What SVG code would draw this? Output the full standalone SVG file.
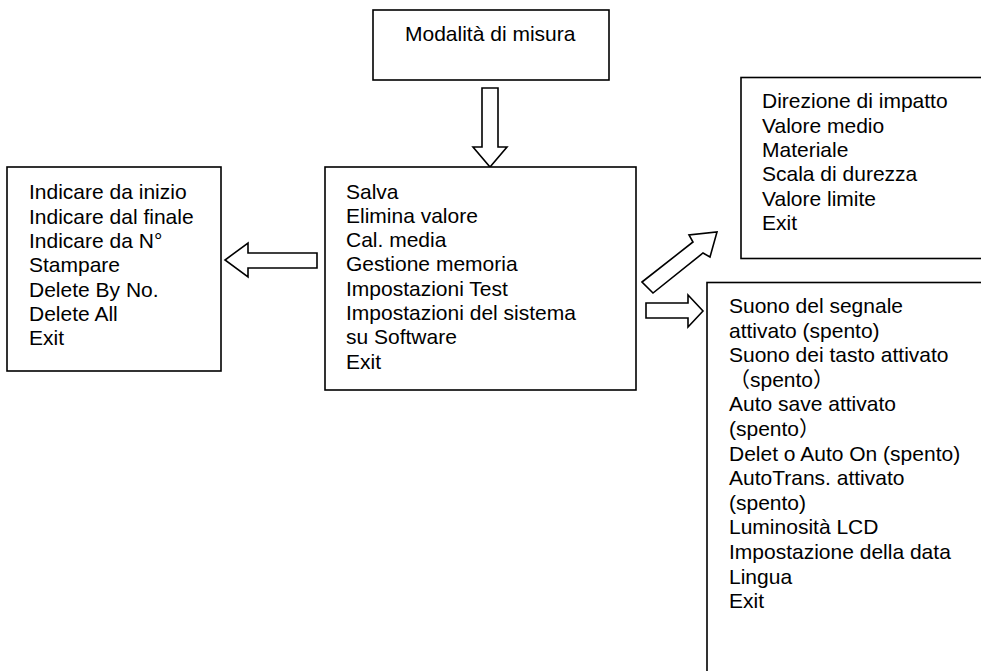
<svg xmlns="http://www.w3.org/2000/svg" width="981" height="671" viewBox="0 0 981 671">
<style>
.box{fill:#fff;stroke:#000;stroke-width:1.6}
.arr{fill:#fff;stroke:#000;stroke-width:1.6;stroke-linejoin:miter}
text{font-family:"Liberation Sans","Noto Sans CJK SC",Arial,sans-serif;font-size:21px;fill:#000}
</style>
<rect width="981" height="671" fill="#fff"/>
<g id="connectors">
<polygon class="arr" points="482,88 498,88 498,147 507,147 490,167 473,147 482,147"/>
<polygon class="arr" points="317,253 317,268 248,268 248,277 225,260 248,243 248,253"/>
<polygon class="arr" points="646,303 688,303 688,295 703,311 688,327 688,318 646,318"/>
<polygon class="arr" points="642,282 693,242 689,235 717,232 710,257 703,253 653,293"/>
</g>
<g id="top">
<rect class="box" x="373" y="10" width="236" height="70"/>
<text x="405" y="41">Modalità di misura</text>
</g>
<g id="center">
<rect class="box" x="325" y="167" width="311" height="223"/>
<text x="346" y="198.5">Salva</text>
<text x="346" y="222.8">Elimina valore</text>
<text x="346" y="247.1">Cal. media</text>
<text x="346" y="271.4">Gestione memoria</text>
<text x="346" y="295.7">Impostazioni Test</text>
<text x="346" y="320">Impostazioni del sistema</text>
<text x="346" y="344.3">su Software</text>
<text x="346" y="368.6">Exit</text>
</g>
<g id="left">
<rect class="box" x="7" y="167" width="214" height="204"/>
<text x="29" y="199.3">Indicare da inizio</text>
<text x="29" y="223.6">Indicare dal finale</text>
<text x="29" y="247.9">Indicare da N°</text>
<text x="29" y="272.2">Stampare</text>
<text x="29" y="296.5">Delete By No.</text>
<text x="29" y="320.8">Delete All</text>
<text x="29" y="345.1">Exit</text>
</g>
<g id="upper-right">
<rect class="box" x="741" y="77.5" width="260" height="181"/>
<text x="762" y="108.3">Direzione di impatto</text>
<text x="762" y="132.6">Valore medio</text>
<text x="762" y="156.9">Materiale</text>
<text x="762" y="181.2">Scala di durezza</text>
<text x="762" y="205.5">Valore limite</text>
<text x="762" y="229.8">Exit</text>
</g>
<g id="lower-right">
<rect class="box" x="707" y="282.5" width="300" height="420"/>
<text x="729" y="313">Suono del segnale</text>
<text x="729" y="337.6">attivato (spento)</text>
<text x="729" y="362.2">Suono dei tasto attivato</text>
<text x="729" y="386.8">（spento）</text>
<text x="729" y="411.4">Auto save attivato</text>
<text x="729" y="436">(spento）</text>
<text x="729" y="460.6">Delet o Auto On (spento)</text>
<text x="729" y="485.2">AutoTrans. attivato</text>
<text x="729" y="509.8">(spento)</text>
<text x="729" y="534.4">Luminosità LCD</text>
<text x="729" y="559">Impostazione della data</text>
<text x="729" y="583.6">Lingua</text>
<text x="729" y="608.2">Exit</text>
</g>
</svg>
